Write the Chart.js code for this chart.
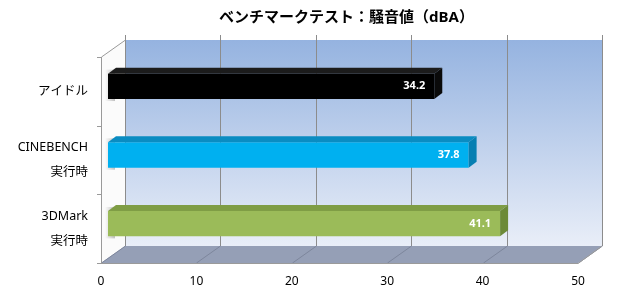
<!DOCTYPE html>
<html>
<head>
<meta charset="utf-8">
<script src="https://cdn.jsdelivr.net/npm/chart.js@4"></script>
<style>
  body { margin: 0; background: #fff; }
  #wrap { width: 620px; height: 300px; }
</style>
</head>
<body>
<div id="wrap"><canvas id="myChart"></canvas></div>
<script>
const categories = ['アイドル', ['CINEBENCH', '実行時'], ['3DMark', '実行時']]
const noise = [34.2, 37.8, 41.1]
const xTicks = [0, 10, 20, 30, 40, 50]
const titleText = 'ベンチマークテスト：騒音値（dBA）'

const frontColors = ['#000000', '#00b0f0', '#9bbb59']
const topColors = ['#1c1c1c', '#0a8cc2', '#7f9d45']
const sideColors = ['#0a0a0a', '#067fb2', '#6c8a38']

const fontFamily = "'Noto Sans', 'Noto Sans CJK JP', sans-serif"

// offsets of the back wall / front edge / bar depth from the bar plane
const BACK = { x: 17, y: -12 }
const FRONT = { x: -7, y: 5 }
const BAR = { x: 8, y: -6 }

// draws walls, floor and grid behind the bars
const box3d = {
  id: 'box3d',
  beforeDatasetsDraw(chart) {
    const ctx = chart.ctx
    const { left, right, top, bottom } = chart.chartArea
    const xs = chart.scales.x
    ctx.save()

    // back wall
    const g = ctx.createLinearGradient(0, top + BACK.y, 0, bottom + BACK.y)
    g.addColorStop(0, '#95b3e0')
    g.addColorStop(1, '#e9eef8')
    ctx.fillStyle = g
    ctx.fillRect(left + BACK.x, top + BACK.y, right - left, bottom - top)

    // left wall
    ctx.beginPath()
    ctx.moveTo(left + FRONT.x, top + FRONT.y)
    ctx.lineTo(left + BACK.x, top + BACK.y)
    ctx.lineTo(left + BACK.x, bottom + BACK.y)
    ctx.lineTo(left + FRONT.x, bottom + FRONT.y)
    ctx.closePath()
    ctx.fillStyle = '#fbfbfb'
    ctx.fill()

    // floor
    ctx.beginPath()
    ctx.moveTo(left + FRONT.x, bottom + FRONT.y)
    ctx.lineTo(left + BACK.x, bottom + BACK.y)
    ctx.lineTo(right + BACK.x, bottom + BACK.y)
    ctx.lineTo(right + FRONT.x, bottom + FRONT.y)
    ctx.closePath()
    ctx.fillStyle = '#959fb6'
    ctx.fill()

    // grid lines on back wall and floor
    ctx.lineWidth = 1
    xTicks.forEach(v => {
      const px = Math.round(xs.getPixelForValue(v)) + 0.5
      ctx.strokeStyle = '#8c8c8c'
      ctx.beginPath()
      ctx.moveTo(px + BACK.x, top + BACK.y - 5)
      ctx.lineTo(px + BACK.x, bottom + BACK.y)
      ctx.stroke()
      ctx.strokeStyle = '#7d869c'
      ctx.beginPath()
      ctx.moveTo(px + BACK.x, bottom + BACK.y)
      ctx.lineTo(px + FRONT.x, bottom + FRONT.y)
      ctx.stroke()
    })

    // wall edges
    ctx.strokeStyle = '#9a9a9a'
    ctx.beginPath()
    ctx.moveTo(left + FRONT.x + 0.5, bottom + FRONT.y)
    ctx.lineTo(left + FRONT.x + 0.5, top + FRONT.y)
    ctx.lineTo(left + BACK.x + 0.5, top + BACK.y)
    ctx.stroke()
    ctx.beginPath()
    ctx.moveTo(left + FRONT.x, bottom + FRONT.y + 0.5)
    ctx.lineTo(right + FRONT.x, bottom + FRONT.y + 0.5)
    ctx.lineTo(right + BACK.x, bottom + BACK.y)
    ctx.stroke()

    // tick marks on the category axis
    const n = categories.length
    for (let i = 0; i <= n; i++) {
      const py = Math.round(top + (bottom - top) * i / n + FRONT.y) + 0.5
      ctx.beginPath()
      ctx.moveTo(left + FRONT.x - 4, py)
      ctx.lineTo(left + FRONT.x, py)
      ctx.stroke()
    }

    // soft bar shadows on the left wall
    chart.getDatasetMeta(0).data.forEach(bar => {
      const h = bar.height
      const sx = left + FRONT.x + 4
      const sg = ctx.createLinearGradient(sx, 0, sx + 10, 0)
      sg.addColorStop(0, 'rgba(120,120,120,0)')
      sg.addColorStop(1, 'rgba(120,120,120,0.45)')
      ctx.fillStyle = sg
      ctx.fillRect(sx, bar.y - h / 2 - 4, 10, h + 6)
    })

    ctx.restore()
  },
  afterDatasetsDraw(chart) {
    const ctx = chart.ctx
    ctx.save()
    chart.getDatasetMeta(0).data.forEach((bar, i) => {
      const x0 = bar.base
      const x1 = bar.x
      const t = bar.y - bar.height / 2
      const b = bar.y + bar.height / 2
      // top face
      ctx.beginPath()
      ctx.moveTo(x0, t)
      ctx.lineTo(x0 + BAR.x, t + BAR.y)
      ctx.lineTo(x1 + BAR.x, t + BAR.y)
      ctx.lineTo(x1, t)
      ctx.closePath()
      ctx.fillStyle = topColors[i]
      ctx.fill()
      // end face
      ctx.beginPath()
      ctx.moveTo(x1, t)
      ctx.lineTo(x1 + BAR.x, t + BAR.y)
      ctx.lineTo(x1 + BAR.x, b + BAR.y)
      ctx.lineTo(x1, b)
      ctx.closePath()
      ctx.fillStyle = sideColors[i]
      ctx.fill()
      // value label
      ctx.fillStyle = '#ffffff'
      ctx.font = 'bold 11px ' + fontFamily
      ctx.textAlign = 'right'
      ctx.textBaseline = 'middle'
      ctx.fillText(noise[i].toFixed(1), x1 - 9, bar.y)
    })
    ctx.restore()
  }
}

const ctx = document.getElementById('myChart').getContext('2d')
const myChart = new Chart(ctx, {
  type: 'bar',
  data: {
    labels: categories,
    datasets: [{
      label: '騒音値',
      data: noise,
      backgroundColor: frontColors,
      borderWidth: 0,
      barPercentage: 0.37,
      categoryPercentage: 1
    }]
  },
  options: {
    indexAxis: 'y',
    responsive: true,
    maintainAspectRatio: false,
    animation: false,
    layout: { padding: { left: 0, right: 35, top: 0, bottom: 0 } },
    plugins: {
      legend: { display: false },
      tooltip: { enabled: false },
      title: {
        display: true,
        fullSize: false,
        text: titleText,
        color: '#000',
        font: { family: fontFamily, size: 15, weight: 'bold' },
        padding: { top: 9, bottom: 25 }
      }
    },
    scales: {
      x: {
        min: 0,
        max: 50,
        grid: { display: false },
        border: { display: false },
        ticks: {
          stepSize: 10,
          padding: 8,
          labelOffset: FRONT.x,
          color: '#000',
          font: { family: fontFamily, size: 12 }
        },
        afterFit(scale) { scale.height = 42 }
      },
      y: {
        grid: { display: false },
        border: { display: false },
        ticks: {
          padding: 12,
          labelOffset: FRONT.y,
          color: '#000',
          font: { family: fontFamily, size: 12.5, lineHeight: 2 }
        },
        afterFit(scale) { scale.width = 108 }
      }
    }
  },
  plugins: [box3d]
})
</script>
</body>
</html>
